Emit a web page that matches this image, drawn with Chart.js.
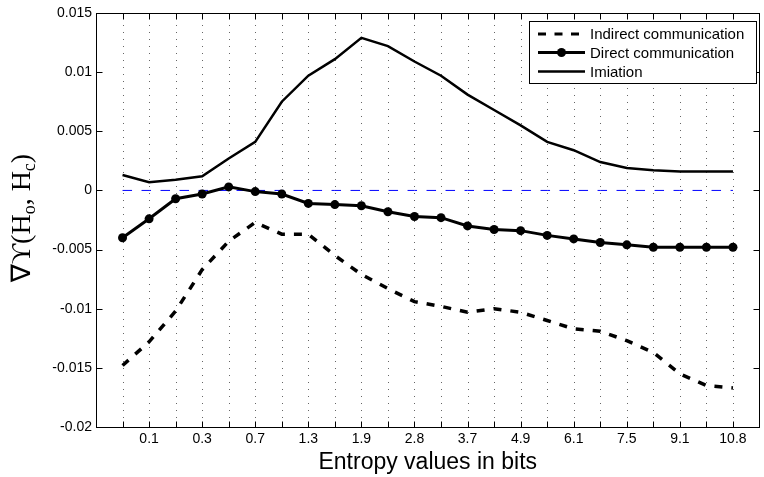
<!DOCTYPE html>
<html>
<head>
<meta charset="utf-8">
<script src="https://cdn.jsdelivr.net/npm/chart.js@4.4.1/dist/chart.umd.min.js"></script>
<style>
  html, body { margin: 0; padding: 0; background: #fff; }
  #wrap { width: 764px; height: 477px; }
</style>
</head>
<body>
<div id="wrap"><canvas id="chart" width="764" height="477"></canvas></div>
<script>
// =======================
// DATA
// =======================
const tickLabels = ["0.1", "0.3", "0.7", "1.3", "1.9", "2.8", "3.7", "4.9", "6.1", "7.5", "9.1", "10.8"];

const indirect = [-0.0148, -0.0128, -0.0102, -0.0067, -0.0043, -0.0027, -0.0037, -0.0037,
    -0.0055, -0.0071, -0.0083, -0.0094, -0.0098, -0.0103, -0.0100, -0.0103,
    -0.0110, -0.0117, -0.0119, -0.0127, -0.0137, -0.0155, -0.0165, -0.0167];

const direct = [-0.0040, -0.0024, -0.0007, -0.0003, 0.0003, -0.0001, -0.0003, -0.0011,
    -0.0012, -0.0013, -0.0018, -0.0022, -0.0023, -0.0030, -0.0033, -0.0034,
    -0.0038, -0.0041, -0.0044, -0.0046, -0.0048, -0.0048, -0.0048, -0.0048];

const imitation = [0.0013, 0.0007, 0.0009, 0.0012, 0.0027, 0.0041, 0.0075, 0.0097,
    0.0111, 0.0129, 0.0122, 0.0109, 0.0097, 0.0081, 0.0068, 0.0055,
    0.0041, 0.0034, 0.0024, 0.0019, 0.0017, 0.0016, 0.0016, 0.0016];

const zeroLine = [0, 0, 0, 0, 0, 0, 0, 0, 0, 0, 0, 0, 0, 0, 0, 0, 0, 0, 0, 0, 0, 0, 0, 0];

const legendItems = ["Indirect communication", "Direct communication", "Imiation"];

const toPoints = arr => arr.map((v, i) => ({ x: i, y: v }));

Chart.defaults.font.family = "'Liberation Sans', Arial, sans-serif";
Chart.defaults.color = "#000";

// =======================
// MATLAB-STYLE FRAME, GRID, LEGEND, TITLES
// =======================
const matlabFrame = {
    id: "matlabFrame",
    beforeDatasetsDraw(chart) {
        const { ctx, chartArea: a, scales: { x } } = chart;
        ctx.save();
        ctx.strokeStyle = "#666";
        ctx.lineWidth = 1;
        ctx.setLineDash([1, 6]);
        x.ticks.forEach(t => {
            if (t.value < 0 || t.value > 23) return;
            const px = Math.round(x.getPixelForValue(t.value)) + 0.5;
            ctx.beginPath();
            ctx.moveTo(px, a.top + 5);
            ctx.lineTo(px, a.bottom);
            ctx.stroke();
        });
        ctx.restore();
    },
    afterDatasetsDraw(chart) {
        const { ctx, chartArea: a, scales: { x, y } } = chart;
        const L = Math.round(a.left) + 0.5, R = Math.round(a.right) - 0.5;
        const T = Math.round(a.top) + 0.5, B = Math.round(a.bottom) + 0.5;
        const tick = 6;

        ctx.save();
        ctx.strokeStyle = "#000";
        ctx.lineWidth = 1;
        ctx.setLineDash([]);
        ctx.strokeRect(L, T, R - L, B - T);

        ctx.beginPath();
        x.ticks.forEach(t => {
            if (t.value < 0 || t.value > 23) return;
            const px = Math.round(x.getPixelForValue(t.value)) + 0.5;
            ctx.moveTo(px, B); ctx.lineTo(px, B - tick);
            ctx.moveTo(px, T); ctx.lineTo(px, T + tick);
        });
        y.ticks.forEach(t => {
            if (t.value <= y.min + 1e-9 || t.value >= y.max - 1e-9) return;
            const py = Math.round(y.getPixelForValue(t.value)) + 0.5;
            ctx.moveTo(L, py); ctx.lineTo(L + tick, py);
            ctx.moveTo(R, py); ctx.lineTo(R - tick, py);
        });
        ctx.stroke();

        // legend
        const bx = 529.5, by = 21.5, bw = 227, bh = 62;
        ctx.fillStyle = "#fff";
        ctx.fillRect(bx, by, bw, bh);
        ctx.strokeRect(bx, by, bw, bh);
        const rows = [34, 52.5, 71.5];
        const x0 = 538, x1 = 585;
        ctx.lineCap = "butt";
        // indirect
        ctx.lineWidth = 3;
        ctx.setLineDash([8, 8.5]);
        ctx.beginPath(); ctx.moveTo(x0, rows[0]); ctx.lineTo(x1, rows[0]); ctx.stroke();
        ctx.setLineDash([]);
        // direct
        ctx.lineWidth = 3;
        ctx.beginPath(); ctx.moveTo(x0, rows[1]); ctx.lineTo(x1, rows[1]); ctx.stroke();
        ctx.fillStyle = "#000";
        ctx.beginPath(); ctx.arc((x0 + x1) / 2, rows[1], 4.5, 0, Math.PI * 2); ctx.fill();
        // imitation
        ctx.lineWidth = 2.5;
        ctx.beginPath(); ctx.moveTo(x0, rows[2]); ctx.lineTo(x1, rows[2]); ctx.stroke();

        ctx.font = "15px 'Liberation Sans', Arial, sans-serif";
        ctx.textAlign = "left";
        ctx.textBaseline = "middle";
        legendItems.forEach((txt, i) => ctx.fillText(txt, 590, rows[i] + 1));

        // x title
        ctx.font = "23px 'Liberation Sans', Arial, sans-serif";
        ctx.textAlign = "center";
        ctx.textBaseline = "alphabetic";
        ctx.fillText("Entropy values in bits", (a.left + a.right) / 2, 469);

        // y title with subscripts
        const big = "28px 'Liberation Serif', 'DejaVu Serif', serif";
        const small = "18px 'Liberation Serif', 'DejaVu Serif', serif";
        const parts = [
            { t: "\u2207", f: "27px 'DejaVu Sans', sans-serif", dy: 0 },
            { t: "\u03D2(H", f: big, dy: 0 },
            { t: "o", f: small, dy: 5 },
            { t: ", H", f: big, dy: 0 },
            { t: "c", f: small, dy: 5 },
            { t: ")", f: big, dy: 0 }
        ];
        let total = 0;
        parts.forEach(p => { ctx.font = p.f; p.w = ctx.measureText(p.t).width; total += p.w; });
        ctx.translate(30, (a.top + a.bottom) / 2 - 2);
        ctx.rotate(-Math.PI / 2);
        ctx.textAlign = "left";
        let cx = -total / 2;
        parts.forEach(p => { ctx.font = p.f; ctx.fillText(p.t, cx, p.dy); cx += p.w; });
        ctx.restore();
    }
};

// =======================
// CHART
// =======================
new Chart(document.getElementById("chart").getContext("2d"), {
    type: "line",
    data: {
        datasets: [
            {
                label: legendItems[0],
                data: toPoints(indirect),
                borderColor: "#000",
                borderWidth: 3.5,
                borderDash: [8, 9],
                pointRadius: 0,
                tension: 0
            },
            {
                label: legendItems[1],
                data: toPoints(direct),
                borderColor: "#000",
                borderWidth: 3,
                pointRadius: 4.5,
                pointBackgroundColor: "#000",
                pointBorderWidth: 0,
                tension: 0
            },
            {
                label: legendItems[2],
                data: toPoints(imitation),
                borderColor: "#000",
                borderWidth: 2.5,
                pointRadius: 0,
                tension: 0
            },
            {
                label: "zero",
                data: toPoints(zeroLine),
                borderColor: "#0000ff",
                borderWidth: 1,
                borderDash: [9.5, 9.5],
                pointRadius: 0,
                tension: 0
            }
        ]
    },
    options: {
        responsive: false,
        animation: false,
        devicePixelRatio: 1,
        layout: { padding: { top: 13, right: 1, left: 0, bottom: 0 } },
        plugins: {
            legend: { display: false },
            tooltip: { enabled: false }
        },
        scales: {
            x: {
                type: "linear",
                min: -1,
                max: 24,
                grid: { display: false, drawTicks: false },
                border: { display: false },
                ticks: {
                    stepSize: 1,
                    autoSkip: false,
                    maxRotation: 0,
                    padding: 4,
                    font: { size: 14 },
                    callback: v => (v % 2 === 1 ? tickLabels[(v - 1) / 2] || "" : "")
                },
                afterFit: s => { s.height = 50; }
            },
            y: {
                min: -0.02,
                max: 0.015,
                grid: { display: false, drawTicks: false },
                border: { display: false },
                ticks: {
                    stepSize: 0.005,
                    padding: 4,
                    font: { size: 14 },
                    callback: v => String(Number(v.toFixed(3)))
                },
                afterFit: s => { s.width = 96; }
            }
        }
    },
    plugins: [matlabFrame]
});
</script>
</body>
</html>
